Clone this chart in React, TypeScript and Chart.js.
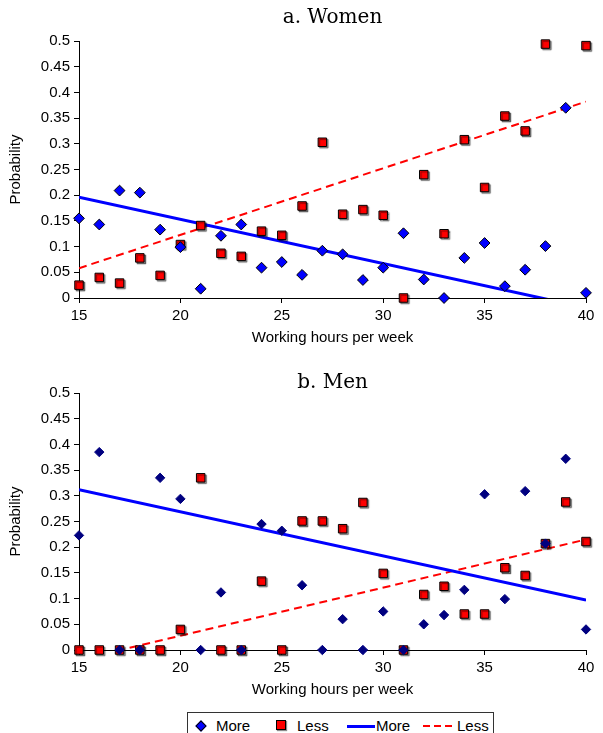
import React, { useEffect, useRef } from "react";
import { Chart, registerables } from "chart.js";
Chart.register(...registerables);

const HOURS = [15, 16, 17, 18, 19, 20, 21, 22, 23, 24, 25, 26, 27, 28, 29, 30, 31, 32, 33, 34, 35, 36, 37, 38, 39, 40];

const WOMEN_MORE = [0.155, 0.143, 0.209, 0.205, 0.133, 0.099, 0.018, 0.121, 0.143, 0.059, 0.07, 0.045, 0.092, 0.085, 0.035, 0.059, 0.126, 0.036, 0, 0.078, 0.107, 0.023, 0.055, 0.101, 0.37, 0.01];
const WOMEN_LESS = [0.025, 0.04, 0.029, 0.078, 0.044, 0.104, 0.141, 0.087, 0.081, 0.13, 0.122, 0.179, 0.303, 0.163, 0.172, 0.161, 0, 0.24, 0.125, 0.308, 0.215, 0.354, 0.325, 0.494, null, 0.491];
const MEN_MORE = [0.223, 0.385, 0, 0, 0.335, 0.294, 0, 0.112, 0, 0.245, 0.232, 0.126, 0, 0.06, 0, 0.075, 0, 0.05, 0.068, 0.117, 0.303, 0.099, 0.309, 0.207, 0.372, 0.04];
const MEN_LESS = [0, 0, 0, 0, 0, 0.04, 0.335, 0, 0, 0.134, 0, 0.251, 0.251, 0.236, 0.287, 0.149, 0, 0.108, 0.124, 0.07, 0.07, 0.16, 0.145, 0.207, 0.288, 0.211];

const TREND_X = [15, 40];
const WOMEN_MORE_TREND = [0.196, -0.019];
const WOMEN_LESS_TREND = [0.058, 0.382];
const MEN_MORE_TREND = [0.312, 0.097];
const MEN_LESS_TREND = [-0.019, 0.215];

const X_TICKS = [15, 20, 25, 30, 35, 40];

const SANS = "'Liberation Sans', Arial, sans-serif";
const SERIF = "'DejaVu Serif', 'Liberation Serif', serif";

const shadowPlugin = {
  id: "squareShadow",
  beforeDatasetDraw(chart: any, args: any) {
    const ds = chart.data.datasets[args.index];
    if (ds && ds.shadow) {
      const ctx = chart.ctx;
      ctx.save();
      ctx.shadowColor = "rgba(0,0,0,0.45)";
      ctx.shadowOffsetX = 1.5;
      ctx.shadowOffsetY = 1.5;
      ctx.shadowBlur = 1;
    }
  },
  afterDatasetDraw(chart: any, args: any) {
    const ds = chart.data.datasets[args.index];
    if (ds && ds.shadow) chart.ctx.restore();
  },
};

function pts(xs: number[], ys: (number | null)[]) {
  const out: { x: number; y: number }[] = [];
  xs.forEach((x, i) => {
    const y = ys[i];
    if (y !== null && y !== undefined) out.push({ x, y });
  });
  return out;
}

type PanelProps = {
  title: string;
  more: (number | null)[];
  less: (number | null)[];
  moreTrend: number[];
  lessTrend: number[];
  diamondColor: string;
  diamondBorder: string;
  diamondRadius: number;
  height: number;
  titleFont: any;
  titlePadding: any;
  layoutTop: number;
};

function Panel(p: PanelProps) {
  const ref = useRef<HTMLCanvasElement | null>(null);
  useEffect(() => {
    if (!ref.current) return;
    const chart = new Chart(ref.current, {
      type: "scatter",
      data: {
        datasets: [
          {
            label: "More",
            data: pts(HOURS, p.more),
            pointStyle: "rectRot",
            pointRadius: p.diamondRadius,
            backgroundColor: p.diamondColor,
            borderColor: p.diamondBorder,
            borderWidth: 1,
            clip: false,
          } as any,
          {
            label: "Less",
            data: pts(HOURS, p.less),
            pointStyle: "rect",
            pointRadius: 6,
            backgroundColor: "#ff0000",
            borderColor: "#000000",
            borderWidth: 1,
            clip: false,
            shadow: true,
          } as any,
          {
            label: "More",
            data: pts(TREND_X, p.moreTrend),
            showLine: true,
            pointRadius: 0,
            borderColor: "#0000ff",
            borderWidth: 3,
            clip: 0,
          } as any,
          {
            label: "Less",
            data: pts(TREND_X, p.lessTrend),
            showLine: true,
            pointRadius: 0,
            borderColor: "#ff0000",
            borderWidth: 2,
            borderDash: [8, 5],
            clip: 0,
          } as any,
        ],
      },
      options: {
        responsive: false,
        animation: false,
        layout: { padding: { left: 0, right: 17, top: p.layoutTop, bottom: 0 } },
        plugins: {
          legend: { display: false },
          tooltip: { enabled: false },
          title: {
            display: true,
            text: p.title,
            fullSize: false,
            color: "#000",
            font: p.titleFont,
            padding: p.titlePadding,
          },
        },
        scales: {
          x: {
            type: "linear",
            min: 15,
            max: 40,
            afterBuildTicks: (scale: any) => {
              scale.ticks = X_TICKS.map((v) => ({ value: v }));
            },
            ticks: { color: "#000", font: { family: SANS, size: 15 }, padding: 4, maxRotation: 0 },
            grid: { drawOnChartArea: false, drawTicks: true, tickLength: 5, color: "#000" },
            border: { display: true, color: "#000", width: 1 },
            title: {
              display: true,
              text: "Working hours per week",
              color: "#000",
              font: { family: SANS, size: 15 },
              padding: { top: -0.5, bottom: 4.5 },
            },
          },
          y: {
            type: "linear",
            min: 0,
            max: 0.5,
            afterFit: (scale: any) => {
              scale.width = 79;
            },
            ticks: {
              stepSize: 0.05,
              color: "#000",
              font: { family: SANS, size: 15 },
              padding: 4,
              callback: (v: any) => String(Number(Number(v).toFixed(2))),
            },
            grid: { drawOnChartArea: false, drawTicks: true, tickLength: 5, color: "#000" },
            border: { display: true, color: "#000", width: 1 },
            title: {
              display: true,
              text: "Probability",
              color: "#000",
              font: { family: SANS, size: 15 },
              padding: { top: 7, bottom: 0 },
            },
          },
        },
      } as any,
      plugins: [shadowPlugin],
    });
    return () => chart.destroy();
  }, []);
  return <canvas ref={ref} width={603} height={p.height} style={{ display: "block", width: 603, height: p.height }} />;
}

const legendText: React.CSSProperties = {
  position: "absolute",
  top: 4,
  fontFamily: SANS,
  fontSize: 15,
  lineHeight: "18px",
  color: "#000",
};

export default function App() {
  return (
    <div style={{ position: "absolute", left: 0, top: 0, width: 603, height: 733, overflow: "hidden", background: "#fff" }}>
      <div style={{ position: "absolute", left: 0, top: 0 }}>
        <Panel
          title="a. Women"
          more={WOMEN_MORE}
          less={WOMEN_LESS}
          moreTrend={WOMEN_MORE_TREND}
          lessTrend={WOMEN_LESS_TREND}
          diamondColor="#0000ff"
          diamondBorder="#000000"
          diamondRadius={5.4}
          height={351}
          titleFont={{ family: SERIF, size: 20, weight: "normal", lineHeight: 1.2 }}
          titlePadding={{ top: 6, bottom: 11 }}
          layoutTop={0}
        />
      </div>
      <div style={{ position: "absolute", left: 0, top: 351 }}>
        <Panel
          title="b. Men"
          more={MEN_MORE}
          less={MEN_LESS}
          moreTrend={MEN_MORE_TREND}
          lessTrend={MEN_LESS_TREND}
          diamondColor="#000080"
          diamondBorder="#000080"
          diamondRadius={4.7}
          height={352}
          titleFont={{ family: SERIF, size: 20, weight: "normal", lineHeight: 0.8 }}
          titlePadding={{ top: 0, bottom: 2 }}
          layoutTop={24}
        />
      </div>
      <div
        style={{
          position: "absolute",
          left: 187,
          top: 712,
          width: 307,
          height: 30,
          border: "1px solid #333",
          boxSizing: "border-box",
        }}
      >
        <div
          style={{
            position: "absolute",
            left: 8.5,
            top: 9,
            width: 6,
            height: 6,
            background: "#0000ff",
            border: "1px solid #000",
            transform: "rotate(45deg)",
          }}
        />
        <span style={{ ...legendText, left: 28 }}>More</span>
        <div
          style={{
            position: "absolute",
            left: 88,
            top: 7,
            width: 8,
            height: 8,
            background: "#ff0000",
            border: "1px solid #000",
            boxShadow: "1px 1px 1px rgba(0,0,0,0.45)",
          }}
        />
        <span style={{ ...legendText, left: 109 }}>Less</span>
        <div style={{ position: "absolute", left: 158.5, top: 11.5, width: 28, height: 3, background: "#0000ff" }} />
        <span style={{ ...legendText, left: 188 }}>More</span>
        <svg style={{ position: "absolute", left: 235, top: 8 }} width={30} height={10}>
          <line x1={0} y1={5} x2={30} y2={5} stroke="#ff0000" strokeWidth={2} strokeDasharray="7,4" />
        </svg>
        <span style={{ ...legendText, left: 269 }}>Less</span>
      </div>
    </div>
  );
}
